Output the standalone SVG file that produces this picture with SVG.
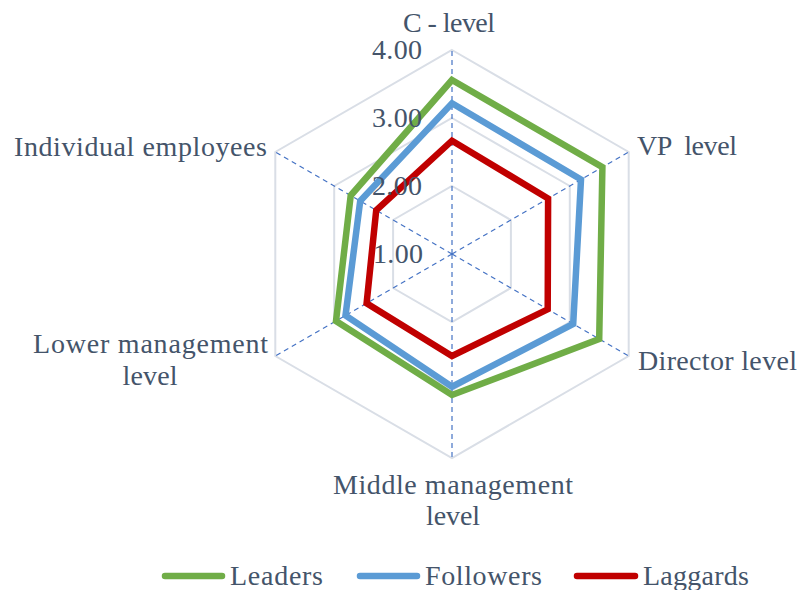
<svg xmlns="http://www.w3.org/2000/svg" width="799" height="590" viewBox="0 0 799 590">
  <style>
    text { font-family: "Liberation Serif", "Times New Roman", serif; font-size: 28px; fill: #44546A; }
    .grid { fill: none; stroke: #D9DEE6; stroke-width: 2; }
    .spoke { stroke: #4472C4; stroke-width: 1.2; stroke-dasharray: 5 4; fill: none; }
    .series { fill: none; stroke-width: 6.5; stroke-linejoin: miter; }
    .leg { stroke-width: 6.5; stroke-linecap: round; }
    .num { text-anchor: end; }
  </style>
  <rect width="799" height="590" fill="#FFFFFF"/>

  <g id="grid">
    <polygon class="grid" points="452,50 628.7,152 628.7,356 452,458 275.3,356 275.3,152"/>
    <polygon class="grid" points="452,118 569.8,186 569.8,322 452,390 334.2,322 334.2,186"/>
    <polygon class="grid" points="452,186 510.9,220 510.9,288 452,322 393.1,288 393.1,220"/>
  </g>

  <g id="spokes">
    <line class="spoke" x1="452" y1="254" x2="452" y2="50"/>
    <line class="spoke" x1="452" y1="254" x2="628.7" y2="152"/>
    <line class="spoke" x1="452" y1="254" x2="628.7" y2="356"/>
    <line class="spoke" x1="452" y1="254" x2="452" y2="458"/>
    <line class="spoke" x1="452" y1="254" x2="275.3" y2="356"/>
    <line class="spoke" x1="452" y1="254" x2="275.3" y2="152"/>
  </g>

  <g id="series">
    <polygon id="leaders" class="series" stroke="#70AD47" points="452,80 602.4,167.2 599.2,339 452,395 336,321 350.7,195.5"/>
    <polygon id="followers" class="series" stroke="#5B9BD5" points="452,103.3 581,179.5 573.2,324 452,386.7 345.5,315.5 360.2,201"/>
    <polygon id="laggards" class="series" stroke="#C00000" points="452,140.7 548.1,198.5 547.7,309.3 452,356 366.6,303.3 376.2,210.3"/>
  </g>

  <g id="scale">
    <text class="num" x="422" y="59" textLength="50">4.00</text>
    <text class="num" x="422" y="127" textLength="50">3.00</text>
    <text class="num" x="422" y="195" textLength="50">2.00</text>
    <text class="num" x="423" y="263" textLength="50">1.00</text>
  </g>

  <g id="labels">
    <text id="c-level" x="449" y="32" text-anchor="middle" textLength="92">C - level</text>
    <text id="vp-level" x="637" y="155" xml:space="preserve" textLength="100">VP  level</text>
    <text id="director-level" x="638" y="370" textLength="159">Director level</text>
    <g id="middle-management" text-anchor="middle">
      <text x="453" y="494" textLength="240">Middle management</text>
      <text x="453" y="525" textLength="54">level</text>
    </g>
    <g id="lower-management" text-anchor="middle">
      <text x="150.5" y="353" textLength="235">Lower management</text>
      <text x="150" y="385" textLength="55">level</text>
    </g>
    <text id="individual-employees" x="267" y="156" text-anchor="end" textLength="253">Individual employees</text>
  </g>

  <g id="legend">
    <line class="leg" x1="165" y1="576" x2="222" y2="576" stroke="#70AD47"/>
    <text x="230" y="585" textLength="93">Leaders</text>
    <line class="leg" x1="360" y1="576" x2="417" y2="576" stroke="#5B9BD5"/>
    <text x="425" y="585" textLength="117">Followers</text>
    <line class="leg" x1="577" y1="576" x2="635" y2="576" stroke="#C00000"/>
    <text x="643" y="585" textLength="106">Laggards</text>
  </g>
</svg>
